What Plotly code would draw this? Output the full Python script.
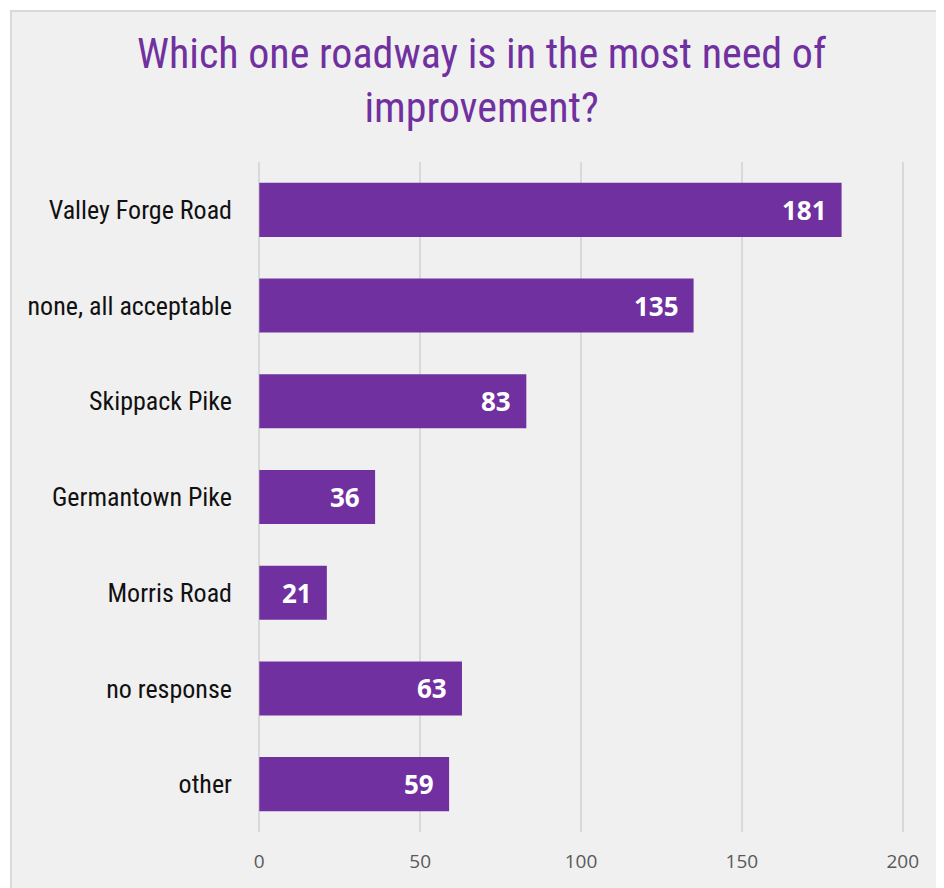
import plotly.graph_objects as go

categories = ["Valley Forge Road", "none, all acceptable", "Skippack Pike",
              "Germantown Pike", "Morris Road", "no response", "other"]
values = [181, 135, 83, 36, 21, 63, 59]
tick_vals = [0, 50, 100, 150, 200]

PURPLE = "#7030a0"
NARROW = "Liberation Sans Narrow, Arial Narrow, Roboto Condensed, sans-serif"

fig = go.Figure(go.Bar(
    y=categories, x=values, orientation="h",
    marker=dict(color=PURPLE, line=dict(width=0)),
    width=0.565, hoverinfo="skip",
))

for c, v in zip(categories, values):
    fig.add_annotation(x=v, y=c, text=f"<b>{v}</b>", showarrow=False,
                       xanchor="right", xshift=-13,
                       font=dict(family="Open Sans, sans-serif", size=26, color="white"))

fig.add_shape(type="rect", xref="paper", yref="paper",
              x0=-0.3824, x1=1.2, y0=-0.2, y1=1.2254,
              line=dict(color="#d9d9d9", width=2), fillcolor="#f0f0f0", layer="below")

fig.update_layout(
    width=936, height=880,
    margin=dict(l=250, r=40, t=154, b=56),
    paper_bgcolor="white", plot_bgcolor="rgba(0,0,0,0)",
    title=dict(text="Which one roadway is in the most need of<br>improvement?",
               x=0.506, xanchor="center", y=0.932, yanchor="middle",
               font=dict(family=NARROW, size=42, color=PURPLE)),
    xaxis=dict(range=[-0.4, 200.4], tickvals=tick_vals, showgrid=True,
               gridcolor="#d9d9d9", gridwidth=2, zeroline=False,
               showline=False, ticks="outside", ticklen=12, tickcolor="rgba(0,0,0,0)",
               tickfont=dict(family="Open Sans, sans-serif", size=19, color="#595959")),
    yaxis=dict(categoryorder="array", categoryarray=categories[::-1],
               showgrid=False, zeroline=False, showline=False, ticks="",
               ticklabelstandoff=25,
               tickfont=dict(family=NARROW, size=26, color="#111111")),
    showlegend=False, bargap=0.435,
)

fig.write_html("out.html")
